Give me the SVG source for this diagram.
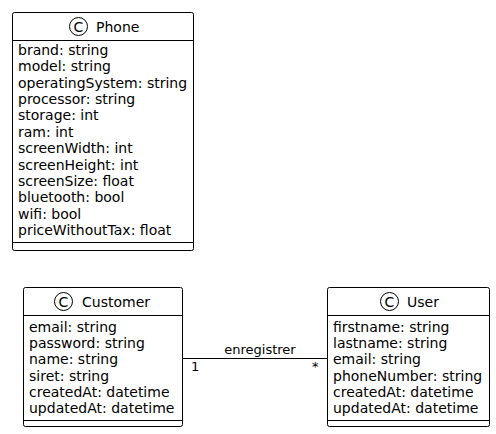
<svg xmlns="http://www.w3.org/2000/svg" width="496" height="434" viewBox="0 0 496 434">
<style>
.box{fill:#fff;stroke:#000;stroke-width:1}
.ln{stroke:#000;stroke-width:1}
.t{font-family:"DejaVu Sans",sans-serif;font-size:14px;fill:#000}
.h{font-family:"DejaVu Sans",sans-serif;font-size:14px;fill:#000}
.l{font-family:"DejaVu Sans",sans-serif;font-size:13px;fill:#000}
.c{fill:#fff;stroke:#000;stroke-width:1}
</style>
<rect width="496" height="434" fill="#fff"/>
<g id="Phone">
<rect class="box" x="12.5" y="12.5" width="181" height="238" rx="2"/>
<line class="ln" x1="12.5" y1="40.5" x2="193.5" y2="40.5"/>
<line class="ln" x1="12.5" y1="242.5" x2="193.5" y2="242.5"/>
<circle class="c" cx="78.5" cy="26.5" r="9"/>
<text class="h" x="78.5" y="31.5" text-anchor="middle" font-size="13">C</text>
<text class="h" x="96" y="31.5">Phone</text>
<text class="t" x="18" y="55">brand: string</text>
<text class="t" x="18" y="71.4">model: string</text>
<text class="t" x="18" y="87.7">operatingSystem: string</text>
<text class="t" x="18" y="104.1">processor: string</text>
<text class="t" x="18" y="120.4">storage: int</text>
<text class="t" x="18" y="136.8">ram: int</text>
<text class="t" x="18" y="153.2">screenWidth: int</text>
<text class="t" x="18" y="169.5">screenHeight: int</text>
<text class="t" x="18" y="185.9">screenSize: float</text>
<text class="t" x="18" y="202.2">bluetooth: bool</text>
<text class="t" x="18" y="218.6">wifi: bool</text>
<text class="t" x="18" y="235">priceWithoutTax: float</text>
</g>
<g id="Customer">
<rect class="box" x="23.5" y="287.5" width="159" height="139" rx="2"/>
<line class="ln" x1="23.5" y1="315.5" x2="182.5" y2="315.5"/>
<line class="ln" x1="23.5" y1="420.5" x2="182.5" y2="420.5"/>
<circle class="c" cx="63.5" cy="301.5" r="9"/>
<text class="h" x="63.5" y="306.5" text-anchor="middle" font-size="13">C</text>
<text class="h" x="82" y="306.5">Customer</text>
<text class="t" x="29" y="332">email: string</text>
<text class="t" x="29" y="348.2">password: string</text>
<text class="t" x="29" y="364.4">name: string</text>
<text class="t" x="29" y="380.6">siret: string</text>
<text class="t" x="29" y="396.8">createdAt: datetime</text>
<text class="t" x="29" y="413">updatedAt: datetime</text>
</g>
<g id="User">
<rect class="box" x="327.5" y="287.5" width="162" height="139" rx="2"/>
<line class="ln" x1="327.5" y1="315.5" x2="489.5" y2="315.5"/>
<line class="ln" x1="327.5" y1="420.5" x2="489.5" y2="420.5"/>
<circle class="c" cx="389.5" cy="301.5" r="9"/>
<text class="h" x="389.5" y="306.5" text-anchor="middle" font-size="13">C</text>
<text class="h" x="407" y="306.5">User</text>
<text class="t" x="333" y="332">firstname: string</text>
<text class="t" x="333" y="348.2">lastname: string</text>
<text class="t" x="333" y="364.4">email: string</text>
<text class="t" x="333" y="380.6">phoneNumber: string</text>
<text class="t" x="333" y="396.8">createdAt: datetime</text>
<text class="t" x="333" y="413">updatedAt: datetime</text>
</g>
<g id="connectors">
<line class="ln" x1="182.5" y1="358.5" x2="327.5" y2="358.5"/>
<text class="l" x="260" y="354" text-anchor="middle">enregistrer</text>
<text class="l" x="191" y="371">1</text>
<text class="l" x="312" y="371">*</text>
</g>
</svg>
